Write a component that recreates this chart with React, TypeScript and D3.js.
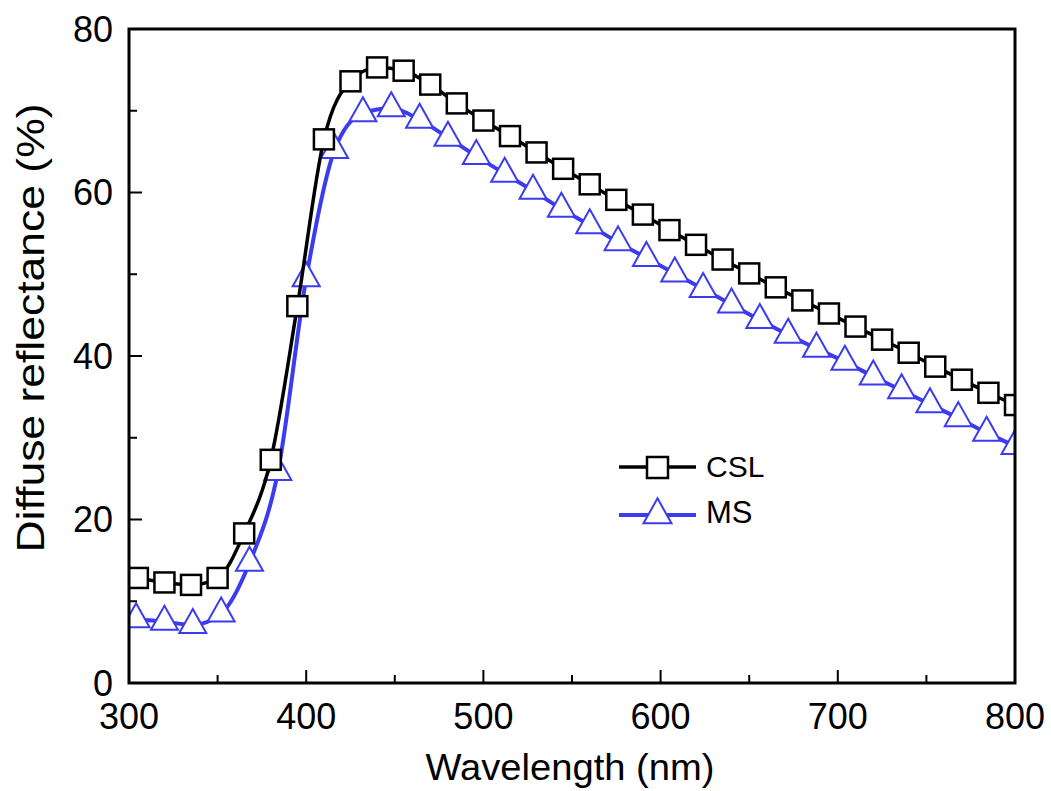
import React from 'react';
import { scaleLinear, line, curveMonotoneX } from 'd3';

const width = 1051;
const height = 791;
const margins = { top: 29, bottom: 108, left: 129, right: 36 };

// CSL sample, symbols every 15 nm
const cslWavelength = [305, 320, 335, 350, 365, 380, 395, 410, 425, 440, 455, 470, 485, 500, 515, 530, 545, 560, 575, 590, 605, 620, 635, 650, 665, 680, 695, 710, 725, 740, 755, 770, 785, 800];
const cslReflectance = [12.85, 12.3, 12.0, 12.85, 18.3, 27.3, 46.1, 66.5, 73.6, 75.3, 74.9, 73.2, 70.9, 68.8, 66.9, 64.9, 62.9, 61.0, 59.1, 57.3, 55.4, 53.6, 51.8, 50.1, 48.4, 46.8, 45.2, 43.6, 42.0, 40.4, 38.7, 37.1, 35.5, 34.0];

// MS sample, symbols every 16 nm
const msWavelength = [304, 320, 336, 352, 368, 384, 400, 416, 432, 448, 464, 480, 496, 512, 528, 544, 560, 576, 592, 608, 624, 640, 656, 672, 688, 704, 720, 736, 752, 768, 784, 800];
const msReflectance = [7.8, 7.5, 7.1, 8.5, 14.7, 25.8, 49.5, 65.2, 69.7, 70.3, 68.9, 66.7, 64.45, 62.3, 60.2, 58.0, 56.0, 53.9, 52.0, 50.1, 48.2, 46.3, 44.4, 42.6, 40.9, 39.3, 37.5, 35.8, 34.1, 32.4, 30.6, 29.0];

const xTicks = [300, 400, 500, 600, 700, 800];
const xMinorTicks = [350, 450, 550, 650, 750];
const yTicks = [0, 20, 40, 60, 80];
const yMinorTicks = [10, 30, 50, 70];

const legendLabels = ['CSL', 'MS'];

const font = '"Liberation Sans", Arial, sans-serif';
const blue = '#3b3bf0';

const triPath = (w: number, h: number) =>
  `M0,${-2 * h / 3}L${w / 2},${h / 3}L${-w / 2},${h / 3}Z`;

export default function App() {
  const xScale = scaleLinear()
    .domain([300, 800])
    .range([margins.left, width - margins.right]);
  const yScale = scaleLinear()
    .domain([0, 80])
    .range([height - margins.bottom, margins.top]);

  const x0 = xScale(300), x1 = xScale(800);
  const y0 = yScale(0), y1 = yScale(80);

  const cslPts = cslWavelength.map((w, i) => [w, cslReflectance[i]] as [number, number]);
  const msPts = msWavelength.map((w, i) => [w, msReflectance[i]] as [number, number]);

  const lineGen = line<[number, number]>()
    .x(d => xScale(d[0]))
    .y(d => yScale(d[1]))
    .curve(curveMonotoneX);

  return (
    <svg width={width} height={height} style={{ position: 'absolute', left: 0, top: 0, background: '#fff' }}>
      <defs>
        <clipPath id="plot">
          <rect x={x0} y={y1} width={x1 - x0} height={y0 - y1} />
        </clipPath>
      </defs>

      <g clipPath="url(#plot)">
        {/* MS */}
        <path d={lineGen(msPts) || ''} fill="none" stroke={blue} strokeWidth={4} />
        {msPts.map(d => (
          <path key={'m' + d[0]} d={triPath(27, 24)}
            transform={`translate(${xScale(d[0])},${yScale(d[1])})`}
            fill="#fff" stroke={blue} strokeWidth={2} strokeLinejoin="miter" />
        ))}
        {/* CSL */}
        <path d={lineGen(cslPts) || ''} fill="none" stroke="#000" strokeWidth={3.5} />
        {cslPts.map(d => (
          <rect key={'c' + d[0]} x={xScale(d[0]) - 10} y={yScale(d[1]) - 10} width={20} height={20}
            fill="#fff" stroke="#000" strokeWidth={2.5} />
        ))}
      </g>

      {/* frame */}
      <rect x={x0} y={y1} width={x1 - x0} height={y0 - y1} fill="none" stroke="#000" strokeWidth={3} />

      {/* x ticks */}
      {xTicks.map(t => (
        <g key={'xt' + t}>
          <line x1={xScale(t)} x2={xScale(t)} y1={y0} y2={y0 - 13} stroke="#000" strokeWidth={2} />
          <text x={xScale(t)} y={729} textAnchor="middle" fontFamily={font} fontSize={36}>{t}</text>
        </g>
      ))}
      {xMinorTicks.map(t => (
        <line key={'xm' + t} x1={xScale(t)} x2={xScale(t)} y1={y0} y2={y0 - 8} stroke="#000" strokeWidth={2} />
      ))}

      {/* y ticks */}
      {yTicks.map(t => (
        <g key={'yt' + t}>
          <line x1={x0} x2={x0 + 13} y1={yScale(t)} y2={yScale(t)} stroke="#000" strokeWidth={2} />
          <text x={113} y={yScale(t) + 12.5} textAnchor="end" fontFamily={font} fontSize={36}>{t}</text>
        </g>
      ))}
      {yMinorTicks.map(t => (
        <line key={'ym' + t} x1={x0} x2={x0 + 8} y1={yScale(t)} y2={yScale(t)} stroke="#000" strokeWidth={2} />
      ))}

      {/* axis titles */}
      <text x={570} y={780} textAnchor="middle" fontFamily={font} fontSize={36}
        textLength={289} lengthAdjust="spacingAndGlyphs">Wavelength (nm)</text>
      <text transform="translate(44,328) rotate(-90)" textAnchor="middle" fontFamily={font} fontSize={39}
        textLength={449} lengthAdjust="spacingAndGlyphs">Diffuse reflectance (%)</text>

      {/* legend */}
      <g>
        <line x1={619} x2={696} y1={467} y2={467} stroke="#000" strokeWidth={3.5} />
        <rect x={647} y={457} width={21} height={21} fill="#fff" stroke="#000" strokeWidth={2.5} />
        <text x={706} y={477} fontFamily={font} fontSize={30}>{legendLabels[0]}</text>
        <line x1={619} x2={696} y1={515} y2={515} stroke={blue} strokeWidth={4} />
        <path d={triPath(28, 25)} transform="translate(657.5,515)" fill="#fff" stroke={blue} strokeWidth={2} />
        <text x={706} y={523} fontFamily={font} fontSize={31}>{legendLabels[1]}</text>
      </g>
    </svg>
  );
}
